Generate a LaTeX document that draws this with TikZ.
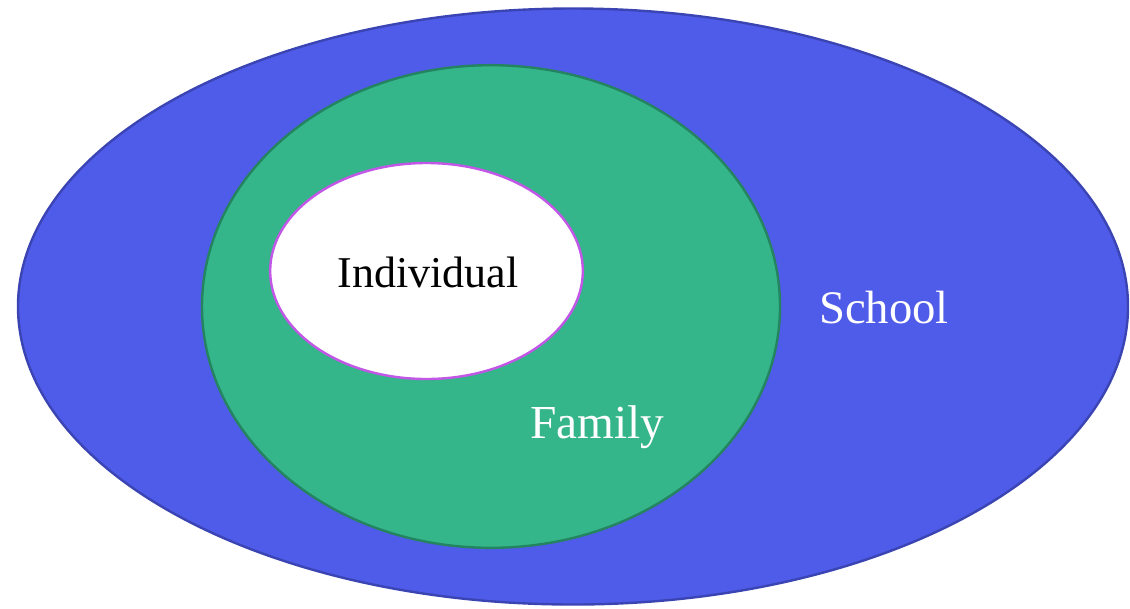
\documentclass[tikz,border=0pt]{standalone}
\usepackage{fontspec}
\setmainfont{Liberation Serif}
\usetikzlibrary{shapes.geometric}

\definecolor{schoolblue}{HTML}{4F5BE9}
\definecolor{schoolline}{HTML}{3A44B2}
\definecolor{familygreen}{HTML}{35B58A}
\definecolor{familyline}{HTML}{24845F}
\definecolor{selfline}{HTML}{C256E6}

\begin{document}
\begin{tikzpicture}[x=0.75pt,y=-0.75pt]
\tikzset{
  ring/.style={ellipse,inner sep=0pt,line width=1.8pt},
  ringlabel/.style={anchor=base,inner sep=0pt,font=\fontsize{35}{40}\selectfont}
}
\useasboundingbox (0,0) rectangle (1130,608);
\node[ring,draw=schoolline,fill=schoolblue,minimum width=832.5pt,minimum height=447pt] (n_school) at (573,306.5) {};
\node[ring,draw=familyline,fill=familygreen,minimum width=433.5pt,minimum height=362pt] (n_family) at (491,306.5) {};
\node[ring,draw=selfline,fill=white,minimum width=234.5pt,minimum height=162pt] (n_self) at (426.5,271) {};
\node[ringlabel,font=\fontsize{33}{38}\selectfont] (t_self) at (428,287) {Individual};
\node[ringlabel,text=white,font=\fontsize{35.5}{40}\selectfont] (t_family) at (597.5,438) {Family};
\node[ringlabel,text=white] (t_school) at (884,323) {School};
\end{tikzpicture}
\end{document}
